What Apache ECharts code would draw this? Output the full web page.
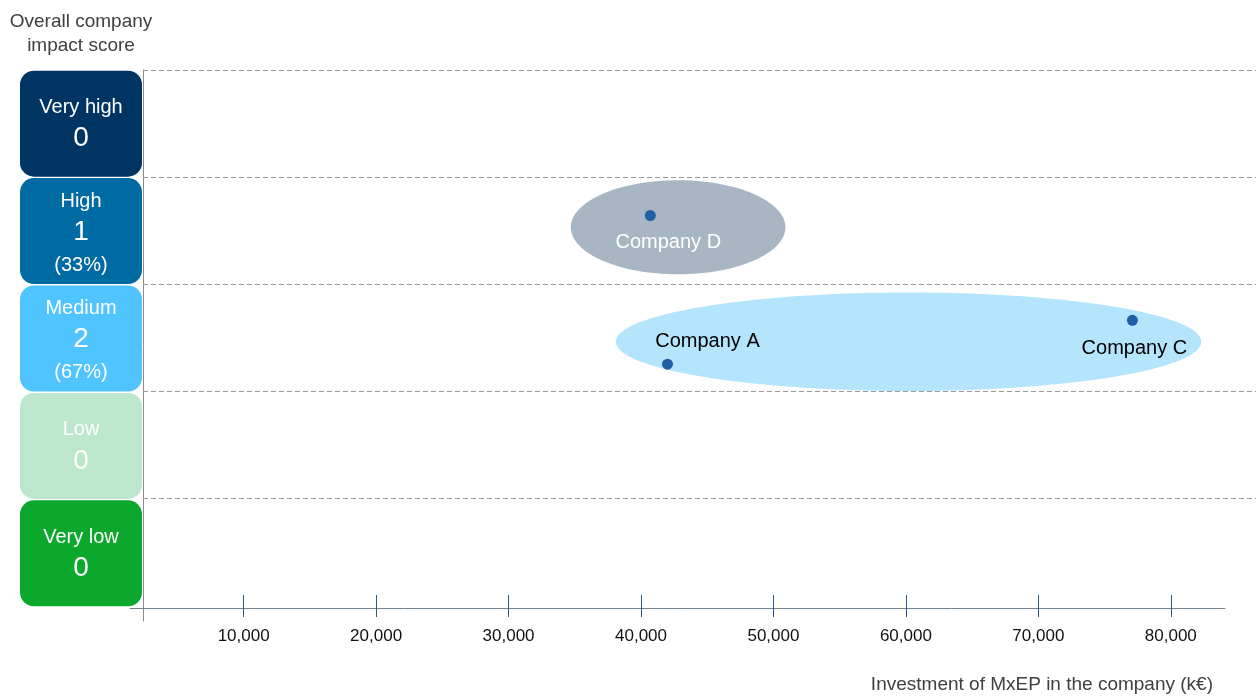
<!DOCTYPE html>
<html>
<head>
<meta charset="utf-8">
<script src="https://cdn.jsdelivr.net/npm/echarts@6/dist/echarts.min.js"></script>
<style>
  html, body { margin: 0; padding: 0; background: #ffffff; }
  #chart { width: 1256px; height: 696px; }
</style>
</head>
<body>
<div id="chart"></div>
<script>
// Impact score levels (bottom to top) and how many companies fall in each
const scoreLevels = ['Very low', 'Low', 'Medium', 'High', 'Very high'];
const companyCounts = [0, 0, 2, 1, 0];

// Portfolio companies: investment (k€) and vertical position inside their score band
const companies = ['Company A', 'Company C', 'Company D'];
const investment = [42000, 77100, 40700];
const impactPosition = [2.25, 2.66, 3.64];

// Grouping ellipses: centre and half-extent in data units
const groupCenterX = [60200, 42800];
const groupCenterY = [2.46, 3.53];
const groupHalfWidth = [22100, 8100];
const groupHalfHeight = [0.46, 0.44];

// Labelled ticks on the investment axis
const xTickValues = [10000, 20000, 30000, 40000, 50000, 60000, 70000, 80000];

// ---- styling -------------------------------------------------------------
const FONT = '"Liberation Sans", Arial, sans-serif';
const levelColors = {
  'Very low': '#0ca82d',
  'Low': '#bde7cd',
  'Medium': '#4fc4ff',
  'High': '#006ba3',
  'Very high': '#003462'
};
const groupColors = ['#b5e4fd', '#a8b6c4'];
const labelStyle = {
  'Company A': { position: 'top', offset: [40, -2], color: '#000000' },
  'Company C': { position: 'bottom', offset: [2, 8], color: '#000000' },
  'Company D': { position: 'bottom', offset: [18, 6], color: '#ffffff' }
};

// Shared horizontal scale: plot starts at 2,400 k€ and each pixel spans 75.5 k€
const X_START = 2400;
const UNITS_PER_PX = 75.5;
const PLOT_LEFT = 143;
const PLOT_WIDTH = 1256 - PLOT_LEFT;
const AXIS_LEFT = 130;
const AXIS_WIDTH = 1225 - AXIS_LEFT;
const axisMin = X_START - (PLOT_LEFT - AXIS_LEFT) * UNITS_PER_PX;

const total = companyCounts.reduce((a, b) => a + b, 0);

const boxData = scoreLevels.map((lvl, i) => ({
  name: lvl,
  value: 1,
  itemStyle: { color: levelColors[lvl] },
  // three-line labels sit slightly low in their box
  label: companyCounts[i] > 0 ? { padding: [6, 0, 0, 0] } : {}
}));

const pointData = companies.map((name, i) => ({
  name: name,
  value: [investment[i], impactPosition[i]],
  label: {
    show: true,
    formatter: '{b}',
    position: labelStyle[name].position,
    offset: labelStyle[name].offset,
    color: labelStyle[name].color,
    fontSize: 20,
    fontFamily: FONT
  }
}));

const groupData = groupCenterX.map((cx, i) => [cx, groupCenterY[i], groupHalfWidth[i], groupHalfHeight[i]]);

const chart = echarts.init(document.getElementById('chart'), null, { renderer: 'canvas' });

chart.setOption({
  animation: false,
  backgroundColor: '#ffffff',
  textStyle: { fontFamily: FONT },
  title: [
    {
      text: 'Overall company\nimpact score',
      left: 76,
      top: 5,
      textAlign: 'center',
      textStyle: { fontSize: 19, fontWeight: 'normal', color: '#404040', lineHeight: 24, fontFamily: FONT }
    },
    {
      text: 'Investment of MxEP in the company (k€)',
      right: 38,
      top: 670,
      textStyle: { fontSize: 19, fontWeight: 'normal', color: '#404040', fontFamily: FONT }
    }
  ],
  grid: [
    // plot area with gridlines, ellipses and points
    { left: PLOT_LEFT, width: PLOT_WIDTH, top: 70, height: 551 },
    // investment axis
    { left: AXIS_LEFT, width: AXIS_WIDTH, top: 70, height: 538 },
    // score level boxes
    { left: 20, width: 122, top: 70, height: 537 }
  ],
  xAxis: [
    {
      gridIndex: 0, type: 'value',
      min: X_START, max: X_START + PLOT_WIDTH * UNITS_PER_PX,
      show: false
    },
    {
      gridIndex: 1, type: 'value', position: 'bottom',
      min: axisMin, max: axisMin + AXIS_WIDTH * UNITS_PER_PX,
      axisLine: { show: true, lineStyle: { color: '#75838f', width: 1 } },
      axisTick: { show: true, customValues: xTickValues, length: 9, lineStyle: { color: '#2a5a8c', width: 1 } },
      axisLabel: {
        show: true, customValues: xTickValues, margin: 20,
        fontSize: 17, color: '#111111', fontFamily: FONT,
        formatter: v => v.toLocaleString('en-US')
      },
      splitLine: { show: false }
    },
    {
      gridIndex: 1, type: 'value', position: 'bottom',
      min: axisMin, max: axisMin + AXIS_WIDTH * UNITS_PER_PX,
      axisLine: { show: false },
      axisTick: { show: true, inside: true, customValues: xTickValues, length: 13, lineStyle: { color: '#2a5a8c', width: 1 } },
      axisLabel: { show: false },
      splitLine: { show: false }
    },
    {
      gridIndex: 2, type: 'value', min: 0, max: 1, show: false
    }
  ],
  yAxis: [
    {
      gridIndex: 0, type: 'value', min: -0.15, max: 5,
      axisLine: { show: true, lineStyle: { color: '#8c8c8c', width: 1 } },
      axisTick: { show: false },
      axisLabel: { show: false },
      splitLine: { show: false }
    },
    {
      gridIndex: 1, type: 'value', min: 0, max: 5, show: false
    },
    {
      gridIndex: 2, type: 'category', data: scoreLevels, show: false
    }
  ],
  series: [
    {
      type: 'custom',
      xAxisIndex: 0, yAxisIndex: 0,
      silent: true,
      data: groupData,
      renderItem: function (params, api) {
        const c = api.coord([api.value(0), api.value(1)]);
        const s = api.size([api.value(2), api.value(3)]);
        return {
          type: 'ellipse',
          shape: { cx: c[0], cy: c[1], rx: s[0], ry: s[1] },
          style: { fill: groupColors[params.dataIndex] }
        };
      },
      markLine: {
        silent: true,
        symbol: 'none',
        label: { show: false },
        lineStyle: { color: '#9a9a9a', type: [5, 3], width: 1 },
        data: [1, 2, 3, 4, 5].map(v => ({ yAxis: v }))
      }
    },
    {
      type: 'scatter',
      xAxisIndex: 0, yAxisIndex: 0,
      symbol: 'circle',
      symbolSize: 11,
      itemStyle: { color: '#1f5fa6', opacity: 1 },
      data: pointData
    },
    {
      type: 'bar',
      xAxisIndex: 3, yAxisIndex: 2,
      barWidth: 106,
      silent: true,
      itemStyle: { borderRadius: 14 },
      data: boxData,
      label: {
        show: true,
        position: 'inside',
        color: '#ffffff',
        fontFamily: FONT,
        formatter: function (p) {
          const n = companyCounts[p.dataIndex];
          let txt = '{n|' + p.name + '}\n{c|' + n + '}';
          if (n > 0) txt += '\n{p|(' + Math.round(n / total * 100) + '%)}';
          return txt;
        },
        rich: {
          n: { fontSize: 20, lineHeight: 30, color: '#ffffff', fontFamily: FONT },
          c: { fontSize: 28, lineHeight: 32, color: '#ffffff', fontFamily: FONT },
          p: { fontSize: 20, lineHeight: 34, color: '#ffffff', fontFamily: FONT }
        }
      }
    }
  ]
});
</script>
</body>
</html>
